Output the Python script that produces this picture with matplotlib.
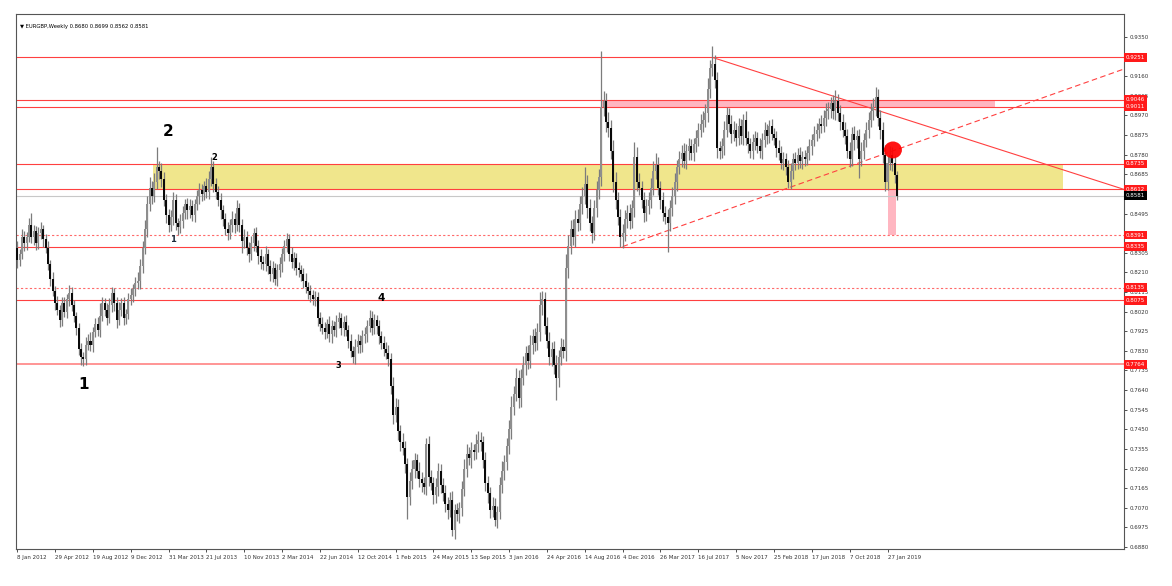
import numpy as np
import matplotlib
matplotlib.use("Agg")
import matplotlib.pyplot as plt
import matplotlib.transforms as mtransforms
from matplotlib.patches import Rectangle, Ellipse

# weekly closes in pips (0.0001), first bar = week of 8 Jan 2012
close_pips = [
    # 2012
    8270, 8300, 8380, 8350, 8380, 8440, 8380, 8410, 8350, 8400,
    8420, 8370, 8330, 8250, 8180, 8120, 8060, 8030, 7980, 8060,
    8020, 8080, 8110, 8050, 8000, 7940, 7840, 7800, 7790, 7860,
    7880, 7860, 7920, 7960, 7930, 8000, 8060, 8030, 7990, 8050,
    8110, 8060, 7980, 8030, 8060, 7990, 8010, 8080, 8100, 8130,
    8160, 8170,
    # 2013
    8240, 8330, 8420, 8540, 8620, 8580, 8650, 8720, 8700, 8660,
    8560, 8490, 8440, 8480, 8560, 8450, 8430, 8460, 8500, 8540,
    8510, 8530, 8490, 8540, 8580, 8610, 8590, 8630, 8600, 8660,
    8720, 8640, 8600, 8560, 8510, 8470, 8420, 8400, 8440, 8470,
    8440, 8520, 8440, 8360, 8380, 8330, 8300, 8350, 8400, 8340,
    8290, 8260,
    # 2014
    8250, 8300, 8240, 8200, 8230, 8180, 8220, 8250, 8300, 8340,
    8370, 8300, 8260, 8280, 8230, 8220, 8200, 8170, 8140, 8120,
    8100, 8080, 8090, 7990, 7960, 7940, 7920, 7960, 7910, 7950,
    7930, 7970, 7990, 7940, 7970, 7930, 7880, 7830, 7800, 7850,
    7880, 7860, 7900, 7910, 7950, 7990, 7940, 7980, 7950, 7900,
    7870, 7840,
    # 2015
    7820, 7790, 7660, 7520, 7560, 7440, 7390, 7360, 7280, 7120,
    7200, 7260, 7300, 7250, 7210, 7190, 7170, 7380, 7220, 7190,
    7130, 7170, 7250, 7180, 7140, 7090, 7060, 7110, 6960, 7060,
    7040, 7070, 7160, 7260, 7330, 7310, 7350, 7340, 7380, 7400,
    7390, 7300, 7190, 7140, 7060, 7080, 7010, 7050, 7180, 7250,
    7290, 7370,
    # 2016
    7450, 7560, 7620, 7700, 7600, 7700, 7760, 7820, 7780, 7860,
    7900, 7870, 7920, 8050, 8080, 7950, 7880, 7800, 7840, 7760,
    7700, 7800, 7850, 7830, 8230, 8340, 8420, 8380, 8470, 8450,
    8540, 8580, 8640, 8520, 8450, 8400, 8520, 8610, 8670, 9010,
    9040, 8940, 8910, 8800, 8650, 8560, 8480, 8380, 8400, 8470,
    8500, 8460,
    # 2017
    8520, 8770, 8650, 8620, 8560, 8500, 8530, 8560, 8620, 8700,
    8730, 8620, 8560, 8500, 8480, 8450, 8520, 8580, 8650, 8720,
    8760, 8790, 8750, 8800, 8820, 8790, 8830, 8860, 8900, 8930,
    8950, 8980, 9100, 9200, 9220, 9140, 8810, 8800, 8820, 8900,
    8970, 8930, 8880, 8900, 8860, 8920, 8870, 8950, 8860, 8830,
    8800, 8840,
    # 2018 - Feb 2019
    8860, 8820, 8800, 8850, 8900, 8870, 8920, 8880, 8860, 8810,
    8790, 8740, 8760, 8720, 8650, 8700, 8760, 8740, 8780, 8750,
    8770, 8760, 8790, 8820, 8850, 8880, 8900, 8930, 8920, 8960,
    8990, 9000, 9030, 8990, 9040, 8980, 8940, 8900, 8870, 8800,
    8760, 8880, 8850, 8870, 8760, 8800, 8850, 8900, 8950, 8990,
    9010, 9060, 8960, 8900, 8780, 8650, 8740, 8780, 8740, 8680,
    8581,
]
first_open = 8330

# wick lengths above / below the body, pips
up_wick = [
    30, 25, 40, 30, 25, 35, 60, 30, 25, 30,
    35, 20, 25, 30, 20, 30, 25, 35, 20, 30,
    30, 25, 40, 30, 25, 20, 25, 30, 25, 35,
    30, 40, 25, 30, 35, 60, 30, 25, 30, 35,
    30, 25, 30, 35, 25, 30, 25, 30, 35, 25,
    30, 40, 35, 30, 45, 40, 50, 35, 40, 95,
    30, 40, 35, 30, 25, 30, 40, 30, 25, 35,
    30, 25, 30, 35, 30, 25, 30, 35, 30, 25,
    35, 40, 50, 30, 25, 30, 35, 25, 30, 35,
    30, 35, 30, 40, 25, 30, 40, 30, 25, 35,
    25, 30, 25, 35, 30, 40, 25, 30, 35, 25,
    30, 35, 30, 25, 30, 25, 35, 30, 25, 30,
    25, 30, 35, 25, 30, 25, 30, 25, 30, 35,
    30, 25, 40, 30, 25, 35, 30, 25, 30, 35,
    25, 30, 25, 35, 30, 25, 30, 35, 30, 40,
    35, 30, 25, 30, 25, 30, 35, 40, 30, 45,
    40, 35, 30, 40, 35, 30, 45, 40, 35, 30,
    40, 35, 30, 30, 40, 35, 30, 45, 35, 30,
    35, 40, 30, 35, 40, 30, 35, 30, 40, 45,
    50, 35, 40, 30, 45, 40, 35, 30, 40, 35,
    30, 40, 35, 30, 40, 45, 35, 40, 45, 50,
    40, 45, 35, 40, 45, 35, 40, 45, 35, 40,
    45, 67, 40, 35, 45, 40, 35, 40, 50, 35,
    40, 35, 70, 50, 45, 50, 40, 45, 40, 45,
    80, 40, 45, 35, 40, 45, 40, 270, 50, 40,
    45, 40, 50, 45, 40, 35, 45, 40, 35, 40,
    40, 70, 45, 40, 35, 40, 35, 40, 45, 50,
    60, 40, 35, 40, 30, 35, 40, 45, 40, 35,
    40, 35, 45, 30, 40, 35, 30, 40, 35, 45,
    40, 45, 50, 40, 87, 45, 40, 35, 40, 45,
    40, 35, 40, 45, 35, 40, 35, 25, 40, 35,
    30, 40, 35, 30, 40, 35, 40, 30, 30, 35,
    30, 35, 40, 30, 35, 30, 35, 40, 30, 35,
    30, 35, 30, 35, 30, 35, 30, 40, 35, 30,
    40, 35, 40, 35, 30, 40, 53, 35, 40, 35,
    40, 35, 40, 35, 40, 30, 35, 40, 35, 40,
    35, 40, 45, 50, 40, 35, 40, 45, 35, 40,
    35, 40, 19,
]
dn_wick = [
    40, 30, 25, 35, 30, 25, 30, 35, 30, 25,
    30, 35, 25, 30, 35, 25, 30, 25, 35, 30,
    25, 30, 35, 25, 30, 35, 30, 40, 35, 30,
    25, 30, 35, 25, 30, 35, 25, 30, 35, 25,
    30, 35, 40, 25, 30, 35, 30, 25, 30, 35,
    35, 30, 40, 35, 30, 40, 35, 40, 30, 35,
    40, 35, 30, 40, 35, 30, 40, 35, 40, 30,
    35, 30, 40, 35, 30, 35, 30, 40, 35, 30,
    30, 35, 30, 40, 35, 30, 40, 35, 30, 35,
    30, 35, 40, 30, 35, 55, 30, 35, 40, 30,
    35, 30, 40, 35, 30, 35, 40, 30, 35, 30,
    35, 30, 40, 35, 30, 35, 30, 40, 35, 30,
    30, 35, 30, 40, 35, 30, 35, 40, 35, 30,
    35, 30, 35, 40, 30, 35, 30, 35, 40, 30,
    35, 30, 30, 35, 30, 40, 35, 30, 35, 30,
    35, 30, 40, 35, 30, 35, 30, 35, 40, 45,
    35, 40, 45, 35, 40, 105, 35, 40, 45, 35,
    40, 45, 35, 40, 45, 35, 40, 35, 45, 40,
    35, 40, 45, 35, 25, 40, 35, 45, 40, 35,
    40, 35, 45, 40, 35, 40, 45, 35, 40, 45,
    40, 35, 30, 40, 35, 40, 45, 35, 40, 45,
    40, 35, 45, 40, 35, 45, 40, 35, 45, 40,
    35, 40, 45, 40, 35, 40, 45, 40, 108, 45,
    40, 35, 50, 45, 40, 35, 45, 40, 35, 45,
    40, 45, 40, 50, 35, 40, 45, 40, 45, 50,
    45, 40, 50, 45, 40, 45, 50, 40, 45, 40,
    35, 40, 45, 35, 40, 45, 40, 35, 40, 35,
    40, 35, 45, 40, 35, 140, 40, 35, 40, 45,
    35, 40, 35, 40, 45, 35, 40, 35, 40, 35,
    40, 35, 40, 45, 40, 35, 45, 40, 35, 40,
    35, 40, 45, 35, 40, 35, 40, 45, 35, 40,
    35, 40, 35, 30, 35, 40, 35, 40, 35, 30,
    35, 40, 35, 30, 35, 40, 30, 35, 40, 35,
    30, 35, 40, 35, 30, 35, 40, 30, 35, 40,
    35, 30, 40, 35, 40, 35, 40, 35, 40, 35,
    40, 35, 40, 35, 45, 40, 93, 35, 40, 35,
    40, 35, 40, 45, 40, 45, 40, 45, 40, 35,
    40, 35, 19,
]

date_labels = ["8 Jan 2012", "29 Apr 2012", "19 Aug 2012", "9 Dec 2012",
               "31 Mar 2013", "21 Jul 2013", "10 Nov 2013", "2 Mar 2014",
               "22 Jun 2014", "12 Oct 2014", "1 Feb 2015", "24 May 2015",
               "13 Sep 2015", "3 Jan 2016", "24 Apr 2016", "14 Aug 2016",
               "4 Dec 2016", "26 Mar 2017", "16 Jul 2017", "5 Nov 2017",
               "25 Feb 2018", "17 Jun 2018", "7 Oct 2018", "27 Jan 2019"]

solid_levels = [0.9251, 0.9046, 0.9011, 0.8735, 0.8612, 0.8335, 0.8075]
dotted_levels = [0.8391, 0.8135]
low_level = 0.7764
last_price = 0.8581
y_ticks = np.round(np.arange(0.6880, 0.93501, 0.0095), 4)

closes = np.array(close_pips) / 10000
opens = np.r_[first_open / 10000, closes[:-1]]
highs = np.maximum(opens, closes) + np.array(up_wick) / 10000
lows = np.minimum(opens, closes) - np.array(dn_wick) / 10000
x = np.arange(len(closes))

fig = plt.figure(figsize=(11.72, 5.86), dpi=100)
ax = fig.add_axes([16/1172, 1 - 549/586, (1124-16)/1172, (549-14)/586])

# zones
ax.add_patch(Rectangle((57.5, 0.8612), 384.5, 0.8735-0.8612, fc='#f0e68c', ec='none', zorder=1))
ax.add_patch(Rectangle((247, 0.9011), 166.6, 0.9046-0.9011, fc='#ffb6c1', ec='none', zorder=1))
ax.add_patch(Rectangle((368.4, 0.8391), 3.4, 0.8612-0.8391, fc='#ffb6c1', ec='none', zorder=1))

# horizontal levels
for lv in solid_levels:
    ax.axhline(lv, color='#ff4040', lw=0.8, zorder=2)
for lv in dotted_levels:
    ax.axhline(lv, color='#ff6a6a', lw=0.8, ls=(0, (2, 2)), zorder=2)
ax.axhline(low_level, color='#ff8c8c', lw=1.3, zorder=2)
ax.axhline(last_price, color='#c8c8c8', lw=0.8, zorder=2)

# trend lines
ax.plot([294, 468], [0.9251, 0.8612], color='#ff4040', lw=0.8, zorder=2)
ax.plot([256, 468], [0.8335, 0.9195], color='#ff4040', lw=0.8, dashes=(5, 3), zorder=2)

# candles
ax.vlines(x, lows, highs, color='#7c7c7c', lw=0.9, zorder=3)
bull = closes >= opens
ax.bar(x[bull], (closes - opens)[bull], bottom=opens[bull], width=0.85,
       color='#8e8e8e', lw=0, zorder=3)
ax.bar(x[~bull], (opens - closes)[~bull], bottom=closes[~bull], width=0.85,
       color='#0a0a0a', lw=0, zorder=4)

ax.add_patch(Ellipse((370.3, 0.8803), 7.6, 0.0082, fc='#ff0000', ec='none', alpha=0.92, zorder=6))

# wave counts
ax.text(28, 0.7665, "1", fontsize=11, fontweight='bold', ha='center', va='center')
ax.text(64, 0.8890, "2", fontsize=11, fontweight='bold', ha='center', va='center')
ax.text(66, 0.8367, "1", fontsize=6, fontweight='bold', ha='center', va='center', color='#1a2a3a')
ax.text(83.5, 0.8764, "2", fontsize=6, fontweight='bold', ha='center', va='center')
ax.text(136, 0.7757, "3", fontsize=6, fontweight='bold', ha='center', va='center')
ax.text(154, 0.8086, "4", fontsize=7.5, fontweight='bold', ha='center', va='center')

ax.text(0.004, 0.982, "\u25bc EURGBP,Weekly 0.8680 0.8699 0.8562 0.8581",
        transform=ax.transAxes, fontsize=3.8, va='top', ha='left')

ax.set_xlim(-0.5, 468)
ax.set_ylim(0.6880 - 2/2064.8, 0.9350 + 23/2064.8)

# labels that sit fully under a price tag are left blank
tag_prices = solid_levels + dotted_levels + [low_level, last_price]
ylabels = []
for v in y_ticks:
    if min(abs(v - t) for t in tag_prices) < 0.0012:
        ylabels.append("")
    else:
        ylabels.append(f"{v:.4f}")

ax.yaxis.tick_right()
ax.set_yticks(y_ticks)
ax.set_yticklabels(ylabels)
ax.set_xticks(np.arange(len(date_labels)) * 16)
ax.set_xticklabels(date_labels, ha='left')
ax.tick_params(axis='both', labelsize=4, length=2, width=0.6, colors='#333333', pad=2)
for s in ax.spines.values():
    s.set_color('#555555')
    s.set_linewidth(0.8)

# price tags on the right axis
tr = mtransforms.blended_transform_factory(ax.transAxes, ax.transData)
for lv in solid_levels + dotted_levels + [low_level]:
    ax.text(1.0015, lv, f"{lv:.4f}", transform=tr, fontsize=4, color='white', va='center',
            ha='left', clip_on=False, zorder=10,
            bbox=dict(boxstyle='square,pad=0.35', fc='#ff1a1a', ec='none'))
ax.text(1.0015, last_price, f"{last_price:.4f}", transform=tr, fontsize=4, color='white',
        va='center', ha='left', clip_on=False, zorder=10,
        bbox=dict(boxstyle='square,pad=0.35', fc='black', ec='none'))

fig.savefig("out.png", dpi=100)
